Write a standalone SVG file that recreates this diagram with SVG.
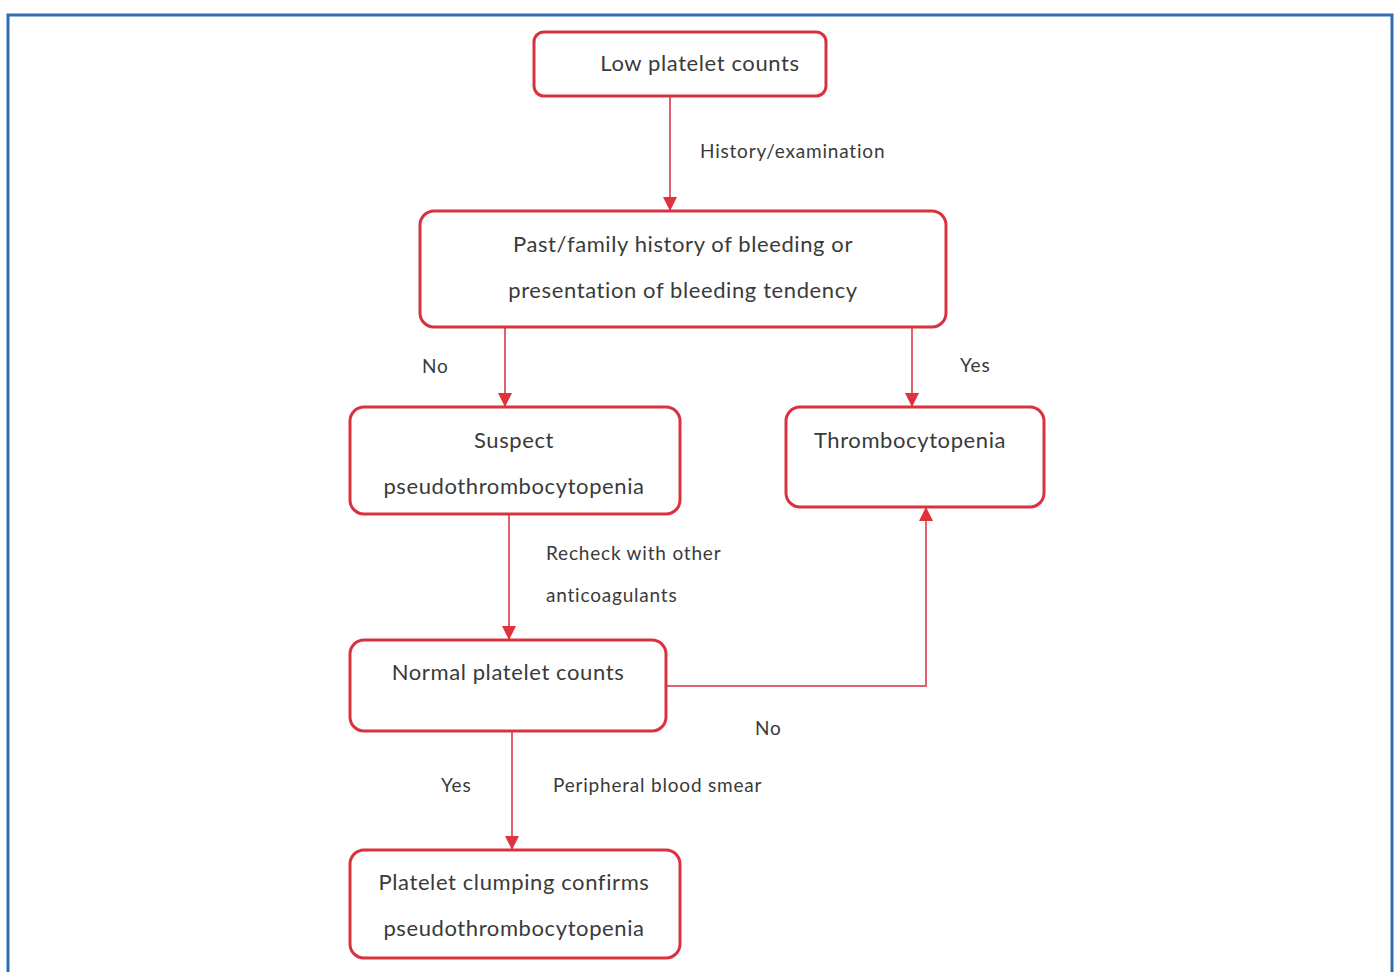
<svg xmlns="http://www.w3.org/2000/svg" width="1397" height="972" viewBox="0 0 1397 972">
<defs>
<marker id="ah" markerWidth="14" markerHeight="14" refX="13" refY="7" orient="auto" markerUnits="userSpaceOnUse">
<path d="M0,0 L14,7 L0,14 Z" fill="#e0313d"/>
</marker>
<style>
.box{fill:#fff;stroke:#d8323f;stroke-width:3}
.t{font-family:Lato,"Open Sans",sans-serif;font-size:22px;letter-spacing:0.6px;fill:#3a3a3a;text-anchor:middle}
.l{font-family:Lato,"Open Sans",sans-serif;font-size:19px;letter-spacing:0.8px;fill:#3a3a3a}
.c{fill:none;stroke:#e0616c;stroke-width:2}
</style>
</defs>
<rect x="0" y="0" width="1397" height="972" fill="#fff"/>
<path d="M8,980 L8,15 L1392,15 L1392,980" fill="none" stroke="#2f6fb0" stroke-width="3"/>
<g id="connectors">
<line class="c" x1="670" y1="96" x2="670" y2="210" marker-end="url(#ah)"/>
<line class="c" x1="505" y1="327" x2="505" y2="406" marker-end="url(#ah)"/>
<line class="c" x1="912" y1="327" x2="912" y2="406" marker-end="url(#ah)"/>
<line class="c" x1="509" y1="514" x2="509" y2="639" marker-end="url(#ah)"/>
<line class="c" x1="512" y1="731" x2="512" y2="849" marker-end="url(#ah)"/>
<polyline class="c" points="666,686 926,686 926,508" marker-end="url(#ah)"/>
<text class="l" x="700" y="158">History/examination</text>
<text class="l" x="422" y="373">No</text>
<text class="l" x="960" y="372">Yes</text>
<text class="l" x="546" y="560">Recheck with other</text>
<text class="l" x="546" y="602">anticoagulants</text>
<text class="l" x="755" y="735">No</text>
<text class="l" x="441" y="792">Yes</text>
<text class="l" x="553" y="792">Peripheral blood smear</text>
</g>
<g id="n1">
<rect class="box" x="534" y="32" width="292" height="64" rx="10"/>
<text class="t" x="700" y="71">Low platelet counts</text>
</g>
<g id="n2">
<rect class="box" x="420" y="211" width="526" height="116" rx="14"/>
<text class="t" x="683" y="252">Past/family history of bleeding or</text>
<text class="t" x="683" y="298">presentation of bleeding tendency</text>
</g>
<g id="n3">
<rect class="box" x="350" y="407" width="330" height="107" rx="14"/>
<text class="t" x="514" y="448">Suspect</text>
<text class="t" x="514" y="494">pseudothrombocytopenia</text>
</g>
<g id="n4">
<rect class="box" x="786" y="407" width="258" height="100" rx="14"/>
<text class="t" x="910" y="448">Thrombocytopenia</text>
</g>
<g id="n5">
<rect class="box" x="350" y="640" width="316" height="91" rx="14"/>
<text class="t" x="508" y="680">Normal platelet counts</text>
</g>
<g id="n6">
<rect class="box" x="350" y="850" width="330" height="108" rx="14"/>
<text class="t" x="514" y="890">Platelet clumping confirms</text>
<text class="t" x="514" y="936">pseudothrombocytopenia</text>
</g>
</svg>
